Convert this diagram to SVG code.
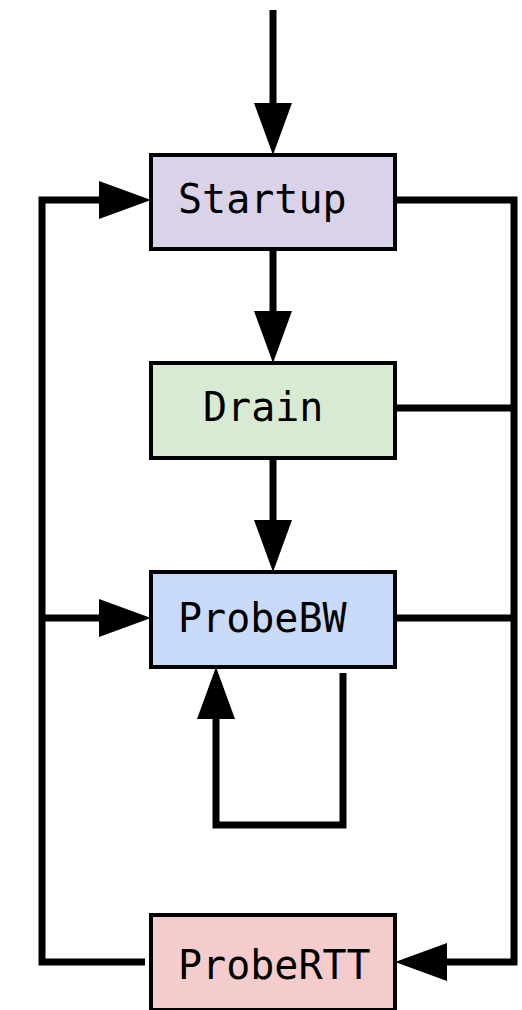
<svg xmlns="http://www.w3.org/2000/svg" width="522" height="1010" viewBox="0 0 522 1010">
<style>
.box{stroke:#000;stroke-width:4}
.lbl{font-family:"DejaVu Sans Mono","Liberation Mono",monospace;font-size:40px;fill:#000}
.c{fill:none;stroke:#000;stroke-width:7;stroke-linejoin:miter}
</style>
<defs>
<marker id="ah" markerUnits="userSpaceOnUse" markerWidth="52" markerHeight="38" viewBox="0 0 52 38" refX="8" refY="19" orient="auto">
<path d="M0,0 L52,19 L0,38 Z" fill="#000"/>
</marker>
</defs>
<rect width="522" height="1010" fill="#fff"/>
<g id="connectors">
<path class="c" d="M273,10 V111" marker-end="url(#ah)"/>
<path class="c" d="M273,249 V319" marker-end="url(#ah)"/>
<path class="c" d="M273,458 V528" marker-end="url(#ah)"/>
<path class="c" d="M395,200 H514 V962 H439" marker-end="url(#ah)"/>
<path class="c" d="M395,408 H514"/>
<path class="c" d="M395,618 H514"/>
<path class="c" d="M145,962 H42 V200 H107" marker-end="url(#ah)"/>
<path class="c" d="M42,618 H107" marker-end="url(#ah)"/>
<path class="c" d="M343,673 V825 H216 V711" marker-end="url(#ah)"/>
</g>
<g id="startup">
<rect class="box" x="151" y="155" width="244" height="94" fill="#d9d2e9"/>
<text class="lbl" x="178" y="213">Startup</text>
</g>
<g id="drain">
<rect class="box" x="151" y="363" width="244" height="95" fill="#d9ead3"/>
<text class="lbl" x="203" y="421">Drain</text>
</g>
<g id="probebw">
<rect class="box" x="151" y="572" width="244" height="95" fill="#c9daf8"/>
<text class="lbl" x="178" y="632">ProbeBW</text>
</g>
<g id="probertt">
<rect class="box" x="151" y="915" width="244" height="95" fill="#f4cccc"/>
<text class="lbl" x="178" y="979">ProbeRTT</text>
</g>
</svg>
